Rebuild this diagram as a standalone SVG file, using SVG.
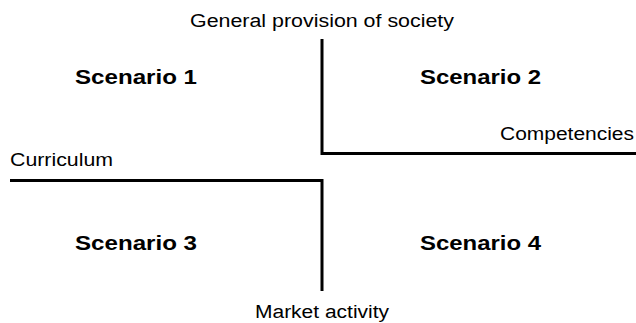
<svg xmlns="http://www.w3.org/2000/svg" width="636" height="323" viewBox="0 0 636 323">
<style>
.lbl{font-family:"Liberation Sans",Arial,sans-serif;font-size:18px;fill:#000}
.sc{font-family:"Liberation Sans",Arial,sans-serif;font-size:20px;font-weight:bold;fill:#000}
.ln{stroke:#000;stroke-width:3;fill:none}
</style>
<rect width="636" height="323" fill="#fff"/>
<g id="connectors">
<polyline class="ln" points="322,39 322,153.5 636,153.5"/>
<polyline class="ln" points="10,180.5 322,180.5 322,291"/>
</g>
<g id="axis-top"><text class="lbl" x="322" y="27" text-anchor="middle" textLength="264" lengthAdjust="spacingAndGlyphs">General provision of society</text></g>
<g id="axis-right"><text class="lbl" x="634" y="140" text-anchor="end" textLength="134" lengthAdjust="spacingAndGlyphs">Competencies</text></g>
<g id="axis-left"><text class="lbl" x="10" y="166" textLength="103" lengthAdjust="spacingAndGlyphs">Curriculum</text></g>
<g id="axis-bottom"><text class="lbl" x="322" y="318" text-anchor="middle" textLength="134" lengthAdjust="spacingAndGlyphs">Market activity</text></g>
<g id="scenario1"><text class="sc" x="75" y="84" textLength="122" lengthAdjust="spacingAndGlyphs">Scenario 1</text></g>
<g id="scenario2"><text class="sc" x="420" y="84" textLength="121" lengthAdjust="spacingAndGlyphs">Scenario 2</text></g>
<g id="scenario3"><text class="sc" x="75" y="250" textLength="122" lengthAdjust="spacingAndGlyphs">Scenario 3</text></g>
<g id="scenario4"><text class="sc" x="420" y="250" textLength="121" lengthAdjust="spacingAndGlyphs">Scenario 4</text></g>
</svg>
